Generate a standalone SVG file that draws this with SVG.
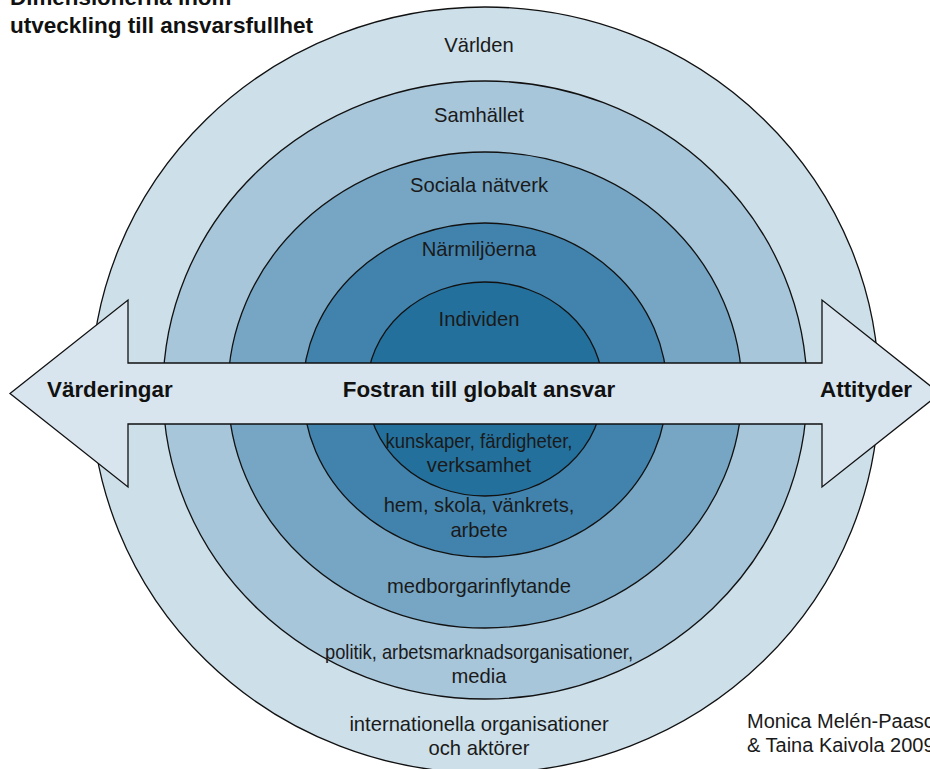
<svg xmlns="http://www.w3.org/2000/svg" width="930" height="769" viewBox="0 0 930 769">
<style>
.ring{stroke:#111;stroke-width:1.3}
.lbl{font-family:"Liberation Sans",Arial,sans-serif;font-size:20.2px;fill:#1a1a1a;text-anchor:middle}
.bold{font-family:"Liberation Sans",Arial,sans-serif;font-size:22.4px;font-weight:bold;fill:#111}
.credit{font-family:"Liberation Sans",Arial,sans-serif;font-size:20px;fill:#1a1a1a}
</style>
<rect width="930" height="769" fill="#ffffff"/>
<g id="title">
<text class="bold" x="10" y="5">Dimensionerna inom</text>
<text class="bold" x="10" y="33" textLength="303" lengthAdjust="spacingAndGlyphs">utveckling till ansvarsfullhet</text>
</g>
<g id="varlden">
<ellipse class="ring" cx="485" cy="390" rx="394" ry="383" fill="#cddfe9"/>
</g>
<g id="samhallet">
<ellipse class="ring" cx="485" cy="390" rx="322" ry="309" fill="#a8c6da"/>
</g>
<g id="sociala">
<ellipse class="ring" cx="485" cy="390" rx="257" ry="238" fill="#76a6c4"/>
</g>
<g id="narmiljoerna">
<ellipse class="ring" cx="485" cy="390" rx="182" ry="167" fill="#4283ad"/>
</g>
<g id="individen">
<ellipse class="ring" cx="485" cy="389" rx="118" ry="107" fill="#24709c"/>
</g>
<g id="connectors">
<polygon points="10,393.5 128,300 128,363 822,363 822,300 940,393.5 822,487 822,424 128,424 128,487" fill="#d9e5ee" stroke="#111" stroke-width="1.3" stroke-linejoin="miter"/>
</g>
<g id="labels">
<text class="lbl" x="479" y="52">Världen</text>
<text class="lbl" x="479" y="122">Samhället</text>
<text class="lbl" x="479" y="192">Sociala nätverk</text>
<text class="lbl" x="479" y="256">Närmiljöerna</text>
<text class="lbl" x="479" y="326">Individen</text>
<text class="lbl" x="479" y="448" textLength="187" lengthAdjust="spacingAndGlyphs">kunskaper, färdigheter,</text>
<text class="lbl" x="479" y="472">verksamhet</text>
<text class="lbl" x="479" y="512">hem, skola, vänkrets,</text>
<text class="lbl" x="479" y="537">arbete</text>
<text class="lbl" x="479" y="593">medborgarinflytande</text>
<text class="lbl" x="479" y="659" textLength="308" lengthAdjust="spacingAndGlyphs">politik, arbetsmarknadsorganisationer,</text>
<text class="lbl" x="479" y="683">media</text>
<text class="lbl" x="479" y="731">internationella organisationer</text>
<text class="lbl" x="479" y="755">och aktörer</text>
</g>
<g id="arrow-labels">
<text class="bold" x="47" y="397">Värderingar</text>
<text class="bold" x="479" y="397" text-anchor="middle">Fostran till globalt ansvar</text>
<text class="bold" x="820" y="397">Attityder</text>
</g>
<g id="credit">
<text class="credit" x="747" y="728">Monica Melén-Paasch</text>
<text class="credit" x="747" y="752">&amp; Taina Kaivola 2009</text>
</g>
</svg>
